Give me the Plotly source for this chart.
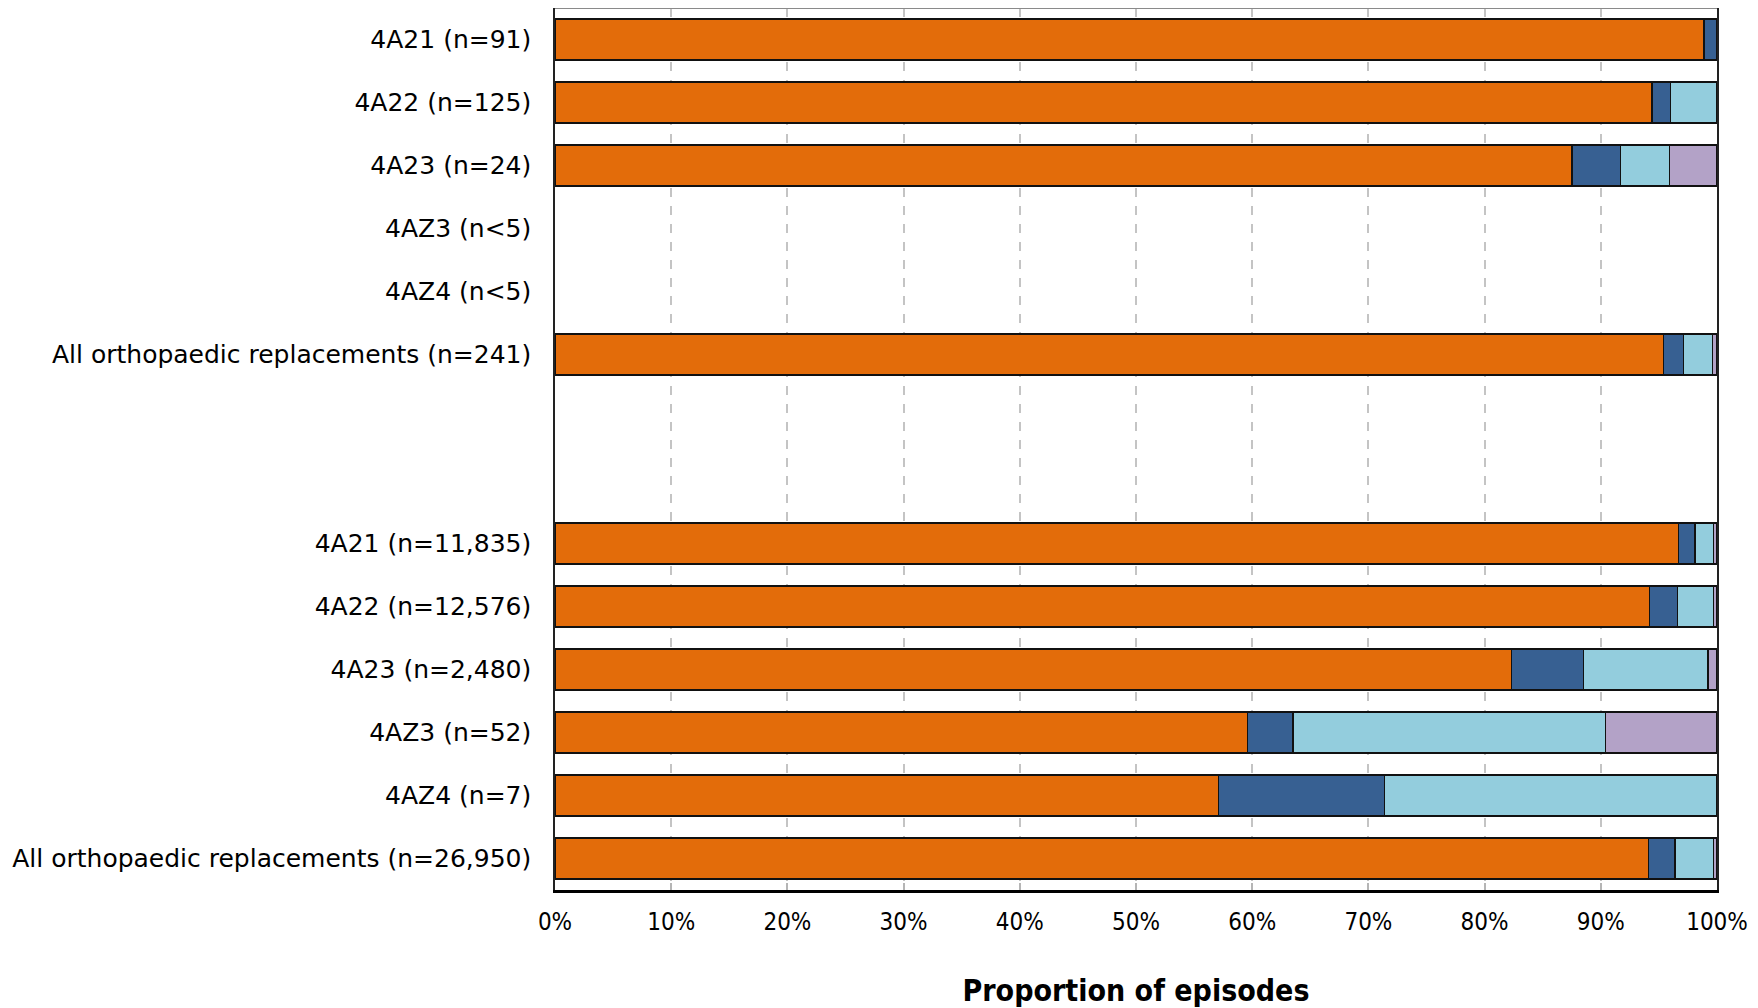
import plotly.graph_objects as go

# Row labels (top to bottom); "" marks an empty spacer row
categories = [
    "4A21 (n=91)", "4A22 (n=125)", "4A23 (n=24)", "4AZ3 (n<5)", "4AZ4 (n<5)",
    "All orthopaedic replacements (n=241)", "", "",
    "4A21 (n=11,835)", "4A22 (n=12,576)", "4A23 (n=2,480)", "4AZ3 (n=52)",
    "4AZ4 (n=7)", "All orthopaedic replacements (n=26,950)",
]

# Proportions (%) per segment
series1 = [98.9, 94.4, 87.5, None, None, 95.4, None, None, 96.7, 94.2, 82.3, 59.6, 57.1, 94.1]
series2 = [1.1, 1.6, 4.2, None, None, 1.7, None, None, 1.4, 2.4, 6.2, 3.9, 14.3, 2.3]
series3 = [0.0, 4.0, 4.2, None, None, 2.5, None, None, 1.6, 3.1, 10.7, 26.9, 28.6, 3.3]
series4 = [0.0, 0.0, 4.1, None, None, 0.4, None, None, 0.3, 0.3, 0.8, 9.6, 0.0, 0.3]

series_names = ["Category 1", "Category 2", "Category 3", "Category 4"]
colors = ["#E36C0A", "#376092", "#93CDDD", "#B3A2C7"]
x_ticks = [0, 10, 20, 30, 40, 50, 60, 70, 80, 90, 100]
x_tick_labels = [f"{v}%" for v in x_ticks]
x_title = "Proportion of episodes"

rows = list(range(len(categories)))

fig = go.Figure()
for name, vals, col in zip(series_names, [series1, series2, series3, series4], colors):
    fig.add_trace(go.Bar(
        y=rows, x=vals, orientation="h", name=name,
        marker=dict(color=col, line=dict(color="#111111", width=1.6)),
        width=0.66,
    ))

tickvals = [r for r, c in zip(rows, categories) if c]
ticktext = [c for c in categories if c]

fig.update_layout(
    width=1742, height=1000,
    barmode="stack",
    showlegend=False,
    plot_bgcolor="white", paper_bgcolor="white",
    margin=dict(l=547, r=33, t=0, b=118, autoexpand=False),
    font=dict(family="DejaVu Sans", color="black"),
)
fig.update_xaxes(
    range=[0, 100], tickvals=x_ticks, ticktext=x_tick_labels,
    showgrid=True, gridcolor="#c4c4c4", griddash="dash", gridwidth=1.5,
    showline=True, linecolor="black", linewidth=2.5, mirror=False,
    ticks="inside", ticklen=7, tickcolor="#b5b5b5", tickwidth=1.5,
    tickfont=dict(family="DejaVu Sans Condensed", size=24, color="black"),
    ticklabelstandoff=8, automargin=False,
    zeroline=False,
    title=dict(text="<b>" + x_title + "</b>",
               font=dict(family="DejaVu Sans Condensed", size=30, color="black"),
               standoff=51),
)
fig.update_yaxes(
    range=[len(categories) - 0.5, -0.5], tickvals=tickvals, ticktext=ticktext,
    showgrid=False, zeroline=False, automargin=False,
    showline=True, linecolor="#222222", linewidth=1.5, mirror=True,
    ticks="", tickfont=dict(family="DejaVu Sans", size=25, color="black"),
    ticklabelstandoff=17,
)
fig.add_shape(type="line", xref="paper", yref="paper", x0=0, x1=1, y0=1, y1=1,
              line=dict(color="#8a8a8a", width=2))

fig.write_html("out.html")
